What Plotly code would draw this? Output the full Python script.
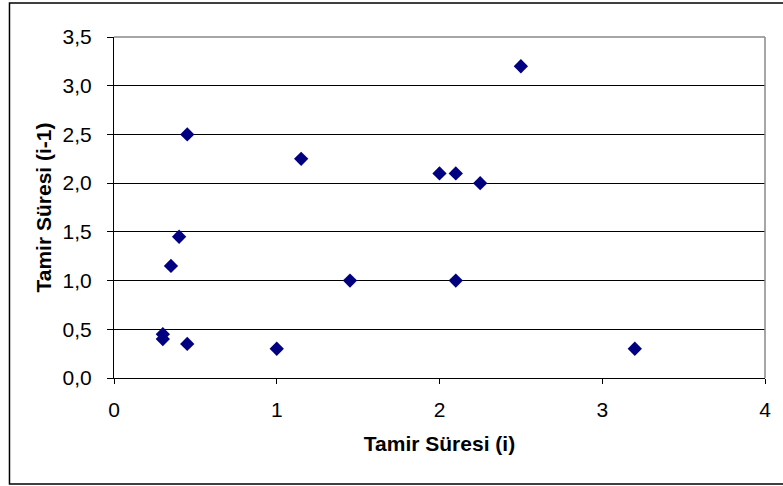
import plotly.graph_objects as go

x_vals = [0.3, 0.3, 0.35, 0.4, 0.45, 0.45, 1.0, 1.15, 1.45, 2.0, 2.1, 2.1, 2.25, 2.5, 3.2]
y_vals = [0.45, 0.4, 1.15, 1.45, 2.5, 0.35, 0.3, 2.25, 1.0, 2.1, 2.1, 1.0, 2.0, 3.2, 0.3]
x_title = "Tamir Süresi (i)"
y_title = "Tamir Süresi (i-1)"

L, R, T, B = 114, 15, 37, 108
W, H = 783, 486
pw, ph = W - L - R, H - T - B

def px(xp):
    return (xp - L) / pw

def py(yp):
    return (H - B - yp) / ph

fig = go.Figure(go.Scatter(
    x=x_vals, y=y_vals, mode="markers",
    marker=dict(symbol="diamond", size=11, color="#000080",
                line=dict(width=0)),
))

tick_font = dict(family="Liberation Sans, Arial, sans-serif", size=21, color="black")
title_font = dict(family="Liberation Sans, Arial, sans-serif", size=21, color="black")

fig.update_layout(
    width=W, height=H,
    margin=dict(l=L, r=R, t=T, b=B),
    paper_bgcolor="white", plot_bgcolor="white",
    separators=", ",
    showlegend=False,
    font=tick_font,
    xaxis=dict(range=[0, 4], dtick=1, tick0=0, showgrid=False, zeroline=False,
               showline=True, linecolor="black", linewidth=1,
               ticks="outside", ticklen=5, tickcolor="black",
               tickfont=tick_font, ticklabelstandoff=8,
               title=dict(text="<b>" + x_title + "</b>", font=title_font, standoff=16)),
    yaxis=dict(range=[0, 3.5], dtick=0.5, tick0=0, tickformat=".1f",
               showgrid=True, gridcolor="black", gridwidth=1, zeroline=False,
               showline=True, linecolor="black", linewidth=1,
               ticks="outside", ticklen=6, tickcolor="black",
               tickfont=tick_font, ticklabelstandoff=11,
               title=dict(text="<b>" + y_title + "</b>", font=title_font, standoff=5)),
    shapes=[
        dict(type="line", xref="paper", yref="paper", x0=0, x1=1, y0=1, y1=1,
             line=dict(color="#888888", width=1.5)),
        dict(type="line", xref="paper", yref="paper", x0=1, x1=1, y0=0, y1=1,
             line=dict(color="#888888", width=1.5)),
        dict(type="rect", xref="paper", yref="paper",
             x0=px(9), x1=px(800), y0=py(484), y1=py(3),
             line=dict(color="black", width=1.5), fillcolor="rgba(0,0,0,0)"),
    ],
)

fig.write_html("out.html")
